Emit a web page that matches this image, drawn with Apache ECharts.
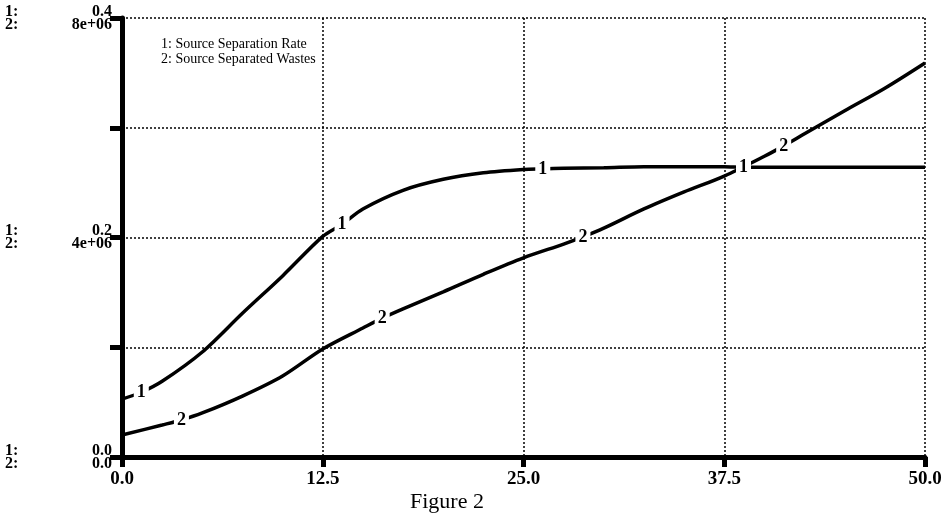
<!DOCTYPE html>
<html>
<head>
<meta charset="utf-8">
<style>
  html, body { margin: 0; padding: 0; background: #fff; }
  #chart { width: 945px; height: 529px; }
</style>
<script src="https://cdn.jsdelivr.net/npm/echarts@6/dist/echarts.min.js"></script>
</head>
<body>
<div id="chart"></div>
<script>
const SERIF = '"Liberation Serif", "DejaVu Serif", serif'

// 1: Source Separation Rate
const rateTime = [0, 1.2, 2.5, 5, 7.5, 10, 12.5, 13.7, 15, 17.5, 20, 22.5, 25, 26.2, 27.5, 30, 32.5, 35, 37.5, 38.7, 40, 42.5, 45, 47.5, 50]
const rateValues = [0.0528, 0.059, 0.069, 0.0957, 0.131, 0.165, 0.201, 0.212, 0.226, 0.243, 0.253, 0.259, 0.262, 0.2625, 0.263, 0.2635, 0.2645, 0.2645, 0.2645, 0.264, 0.264, 0.264, 0.264, 0.264, 0.264]
const rateLabelAt = [1.2, 13.7, 26.2, 38.7]

// 2: Source Separated Wastes
const wasteTime = [0, 2.5, 3.7, 5, 7.5, 10, 12.5, 15, 16.2, 17.5, 20, 22.5, 25, 27.5, 28.7, 30, 32.5, 35, 37.5, 40, 41.2, 42.5, 45, 47.5, 50]
const wasteValues = [401000, 583000, 674000, 802000, 1110000, 1476000, 1968000, 2350000, 2530000, 2700000, 3010000, 3330000, 3630000, 3880000, 4010000, 4170000, 4520000, 4830000, 5120000, 5480000, 5670000, 5890000, 6310000, 6720000, 7180000]
const wasteLabelAt = [3.7, 16.2, 28.7, 41.2]

const seriesNames = ['Source Separation Rate', 'Source Separated Wastes']
const rateTicks = ['0.0', '', '0.2', '', '0.4']
const wasteTicks = ['0.0', '', '4e+06', '', '8e+06']

function buildData(times, values, labelAt, text) {
  return times.map((t, i) => {
    const item = { value: [t, values[i]] }
    if (labelAt.includes(t)) {
      item.symbol = 'rect'
      item.symbolSize = [15, 20]
      item.itemStyle = { color: '#fff' }
      item.label = {
        show: true, position: 'inside', formatter: text,
        color: '#000', fontFamily: SERIF, fontSize: 18, fontWeight: 'bold'
      }
    }
    return item
  })
}

const grid = { left: 122, right: 20, top: 18, bottom: 72 }
const gridLine = { show: true, lineStyle: { color: '#000', width: 1.5, type: [2, 2] } }
const tickFont = { fontFamily: SERIF, fontSize: 16, fontWeight: 'bold', color: '#000', lineHeight: 13 }

const chart = echarts.init(document.getElementById('chart'))
chart.setOption({
  animation: false,
  backgroundColor: '#fff',
  title: {
    text: 'Figure 2', left: 405, top: 486,
    textStyle: { fontFamily: SERIF, fontSize: 22, fontWeight: 'normal', color: '#000' }
  },
  legend: {
    orient: 'vertical', left: 155, top: 37, padding: 0, itemGap: 1,
    itemWidth: 0, itemHeight: 0, selectedMode: false,
    data: seriesNames,
    formatter: name => (seriesNames.indexOf(name) + 1) + ': ' + name,
    textStyle: { fontFamily: SERIF, fontSize: 14, fontWeight: 'normal', color: '#000', padding: 0, lineHeight: 13 }
  },
  grid,
  xAxis: {
    type: 'value', min: 0, max: 50, interval: 12.5,
    axisLine: { lineStyle: { color: '#000', width: 5 } },
    axisTick: { length: 10, lineStyle: { color: '#000', width: 5 } },
    axisLabel: {
      margin: 13, color: '#000', fontFamily: SERIF, fontSize: 19, fontWeight: 'bold',
      formatter: v => v.toFixed(1)
    },
    splitLine: gridLine
  },
  yAxis: [{
    type: 'value', min: 0, max: 0.4, interval: 0.1,
    axisLine: { show: true, lineStyle: { color: '#000', width: 5 } },
    axisTick: { show: true, length: 12, lineStyle: { color: '#000', width: 5 } },
    axisLabel: {
      margin: 10, color: '#000', fontFamily: SERIF, fontSize: 16, fontWeight: 'bold',
      formatter: (v, i) => rateTicks[i] ? `{a|1:}{b|${rateTicks[i]}}\n{a|2:}{b|${wasteTicks[i]}}` : '',
      rich: {
        a: Object.assign({ width: 22, align: 'left' }, tickFont),
        b: Object.assign({ width: 85, align: 'right' }, tickFont)
      }
    },
    splitLine: gridLine
  }, {
    type: 'value', min: 0, max: 8000000, interval: 2000000, show: false,
    splitLine: { show: false }
  }],
  series: [{
    name: seriesNames[0], type: 'line', smooth: 0.3, symbol: 'none', showSymbol: true,
    silent: true, yAxisIndex: 0,
    lineStyle: { color: '#000', width: 3.5 }, itemStyle: { color: '#000' },
    data: buildData(rateTime, rateValues, rateLabelAt, '1')
  }, {
    name: seriesNames[1], type: 'line', smooth: 0.3, symbol: 'none', showSymbol: true,
    silent: true, yAxisIndex: 1,
    lineStyle: { color: '#000', width: 3.5 }, itemStyle: { color: '#000' },
    data: buildData(wasteTime, wasteValues, wasteLabelAt, '2')
  }]
})
</script>
</body>
</html>
